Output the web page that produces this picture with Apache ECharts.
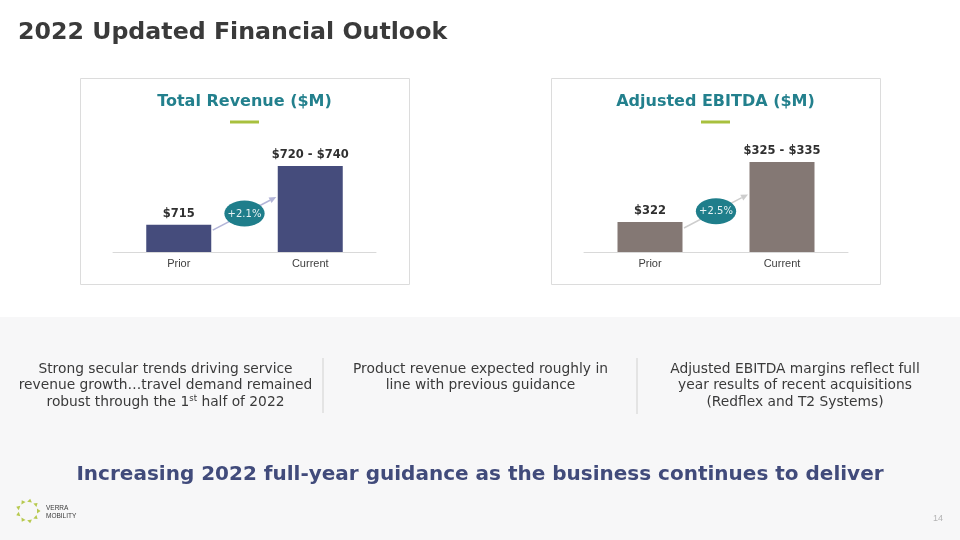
<!DOCTYPE html>
<html>
<head>
<meta charset="utf-8">
<script src="https://cdn.jsdelivr.net/npm/echarts@6/dist/echarts.min.js"></script>
<style>
html,body{margin:0;padding:0;background:#ffffff;}
#main{width:960px;height:540px;}
</style>
</head>
<body>
<div id="main"></div>
<script>
// ---- data ----
const categories = ['Prior', 'Current'];
const revenueValues = [715, 730];
const revenueLabels = ['$715', '$720 - $740'];
const revenueGrowth = '+2.1%';
const ebitdaValues = [322, 330];
const ebitdaLabels = ['$322', '$325 - $335'];
const ebitdaGrowth = '+2.5%';

const pageTitle = '2022 Updated Financial Outlook';
const chartTitles = ['Total Revenue ($M)', 'Adjusted EBITDA ($M)'];
const col1 = ['Strong secular trends driving service', 'revenue growth\u2026travel demand remained'];
const col2 = ['Product revenue expected roughly in', 'line with previous guidance'];
const col3 = ['Adjusted EBITDA margins reflect full', 'year results of recent acquisitions', '(Redflex and T2 Systems)'];
const headline = 'Increasing 2022 full-year guidance as the business continues to deliver';

const chart = echarts.init(document.getElementById('main'), null, {renderer: 'canvas'});

const BODY = "'DejaVu Sans', Verdana, sans-serif";
const ARIAL = "'Liberation Sans', Arial, sans-serif";

function xAxisCfg(i) {
  return {
    type: 'category', gridIndex: i, data: categories,
    axisLine: {lineStyle: {color: '#d9d9d9', width: 1}},
    axisTick: {show: false},
    axisLabel: {color: '#404040', fontSize: 11, fontFamily: ARIAL, margin: 6}
  };
}
function barSeries(i, values, labels, color) {
  return {
    type: 'bar', xAxisIndex: i, yAxisIndex: i, data: values, barWidth: 65,
    itemStyle: {color: color}, silent: true,
    label: {
      show: true, position: 'top', distance: 5,
      formatter: p => labels[p.dataIndex],
      color: '#303030', fontWeight: 'bold', fontSize: 11.5, fontFamily: BODY
    }
  };
}

chart.setOption({
  animation: false,
  backgroundColor: '#ffffff',
  grid: [
    {left: 113, width: 263, top: 127, height: 125},
    {left: 584, width: 264, top: 87, height: 165}
  ],
  xAxis: [xAxisCfg(0), xAxisCfg(1)],
  yAxis: [
    {gridIndex: 0, type: 'value', min: 708, max: 740, show: false},
    {gridIndex: 1, type: 'value', min: 318, max: 340, show: false}
  ],
  series: [
    barSeries(0, revenueValues, revenueLabels, '#454c7c'),
    barSeries(1, ebitdaValues, ebitdaLabels, '#847874')
  ]
});

function annot(i, values, mins, growth, arrowColor) {
  const base = chart.convertToPixel({xAxisIndex: i, yAxisIndex: i}, [0, mins])[1];
  const p0 = chart.convertToPixel({xAxisIndex: i, yAxisIndex: i}, [0, values[0]]);
  const p1 = chart.convertToPixel({xAxisIndex: i, yAxisIndex: i}, [1, values[1]]);
  const h0 = base - p0[1], h1 = base - p1[1];
  const x1 = p0[0] + 34, y1 = base - 0.8 * h0;
  const x2 = p1[0] - 34, y2 = base - 0.64 * h1;
  const ang = Math.atan2(y2 - y1, x2 - x1);
  const L = 7, W = 3.2;
  const bx = x2 - L * Math.cos(ang), by = y2 - L * Math.sin(ang);
  const nx = -Math.sin(ang), ny = Math.cos(ang);
  const cx = (x1 + x2) / 2, cy = (y1 + y2) / 2;
  return [
    {type: 'line', shape: {x1: x1, y1: y1, x2: bx, y2: by}, style: {stroke: arrowColor, lineWidth: 1.5}, z: 10},
    {type: 'polygon', shape: {points: [[x2, y2], [bx + nx * W, by + ny * W], [bx - nx * W, by - ny * W]]}, style: {fill: arrowColor}, z: 10},
    {type: 'circle', x: cx, y: cy, scaleX: 1.55, scaleY: 1, shape: {cx: 0, cy: 0, r: 13}, style: {fill: '#1f7e8b'}, z: 11},
    {type: 'text', x: cx, y: cy + 0.5, style: {text: growth, fill: '#e8f2f3', fontSize: 10, fontFamily: BODY, align: 'center', verticalAlign: 'middle'}, z: 12}
  ];
}

const g = [];
// grey band
g.push({type: 'rect', shape: {x: 0, y: 317, width: 960, height: 223}, style: {fill: '#f7f7f8'}, z: -10});
// boxes
g.push({type: 'rect', shape: {x: 80.5, y: 78.5, width: 329, height: 206}, style: {fill: 'none', stroke: '#dcdcdc', lineWidth: 1}, z: -5});
g.push({type: 'rect', shape: {x: 551.5, y: 78.5, width: 329, height: 206}, style: {fill: 'none', stroke: '#dcdcdc', lineWidth: 1}, z: -5});
// page title
g.push({type: 'text', x: 18, y: 33, style: {text: pageTitle, fill: '#3a3a3a', fontSize: 23.7, fontWeight: 'bold', fontFamily: BODY, align: 'left', verticalAlign: 'middle'}});
// chart titles + underline
[[244.5, 0], [715.5, 1]].forEach(([cx, i]) => {
  g.push({type: 'text', x: cx, y: 102, style: {text: chartTitles[i], fill: '#23808d', fontSize: 16, fontWeight: 'bold', fontFamily: BODY, align: 'center', verticalAlign: 'middle'}});
  g.push({type: 'rect', shape: {x: cx - 14.5, y: 120.5, width: 29, height: 3}, style: {fill: '#a8c03e'}});
});
// columns
function col(lines, cx) {
  lines.forEach((t, k) => {
    g.push({type: 'text', x: cx, y: 369 + k * 16.7, style: {text: t, fill: '#3a3a3a', fontSize: 13.8, fontFamily: BODY, align: 'center', verticalAlign: 'middle'}});
  });
}
col(col1, 165.5);
g.push({type: 'text', x: 165.5, y: 402.4, style: {
  text: '{n|robust through the 1}{s|st}{n| half of 2022}', align: 'center', verticalAlign: 'middle',
  rich: {
    n: {fill: '#3a3a3a', fontSize: 13.8, fontFamily: BODY, lineHeight: 16},
    s: {fill: '#3a3a3a', fontSize: 8.5, fontFamily: BODY, lineHeight: 10, verticalAlign: 'top'}
  }
}});
col(col2, 480.5);
col(col3, 795);
// dividers
g.push({type: 'line', shape: {x1: 323, y1: 358, x2: 323, y2: 413}, style: {stroke: '#dedede', lineWidth: 1.5}});
g.push({type: 'line', shape: {x1: 637, y1: 358, x2: 637, y2: 414}, style: {stroke: '#dedede', lineWidth: 1.5}});
// headline
g.push({type: 'text', x: 480, y: 475, style: {text: headline, fill: '#414b7b', fontSize: 20, fontWeight: 'bold', fontFamily: BODY, align: 'center', verticalAlign: 'middle'}});
// page number
g.push({type: 'text', x: 938, y: 519, style: {text: '14', fill: '#b4b4b4', fontSize: 9, fontFamily: ARIAL, align: 'center', verticalAlign: 'middle'}});
// logo
for (let k = 0; k < 9; k++) {
  const a = k / 9 * Math.PI * 2;
  const px = 28 + 10.5 * Math.cos(a), py = 511 + 10.5 * Math.sin(a);
  g.push({type: 'polygon', x: px, y: py, rotation: -(a + Math.PI / 2),
    shape: {points: [[-2.4, 1.5], [2.4, 1.5], [0, -2]]}, style: {fill: '#b7c94f'}});
}
g.push({type: 'text', x: 46, y: 508.5, style: {text: 'VERRA', fill: '#3a3a3a', fontSize: 6.5, fontFamily: ARIAL, align: 'left', verticalAlign: 'middle'}});
g.push({type: 'text', x: 46, y: 516, style: {text: 'MOBILITY', fill: '#3a3a3a', fontSize: 6.5, fontFamily: ARIAL, align: 'left', verticalAlign: 'middle'}});

annot(0, revenueValues, 708, revenueGrowth, '#b3b5d8').forEach(e => g.push(e));
annot(1, ebitdaValues, 318, ebitdaGrowth, '#cdcdcd').forEach(e => g.push(e));

chart.setOption({graphic: {elements: g}});
</script>
</body>
</html>
